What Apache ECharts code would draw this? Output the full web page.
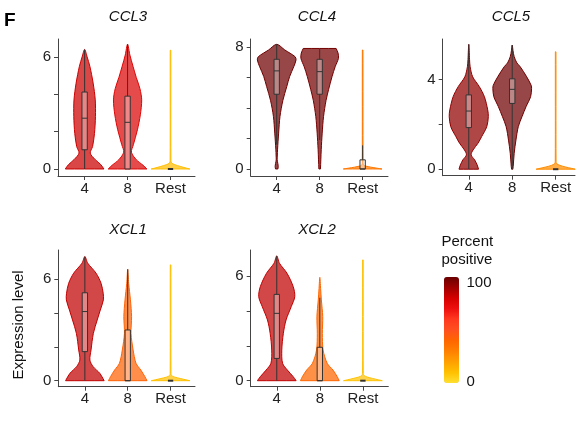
<!DOCTYPE html>
<html><head><meta charset="utf-8">
<script src="https://cdn.jsdelivr.net/npm/echarts@6/dist/echarts.min.js"></script>
<style>html,body{margin:0;padding:0;background:#fff}#c{width:577px;height:423px}</style>
</head><body><div id="c"></div>
<script>
// ---------------- data ----------------
const genes = ['CCL3', 'CCL4', 'CCL5', 'XCL1', 'XCL2'];
const groups = ['4', '8', 'Rest'];

// percent positive per group (4, 8, Rest)
const ccl3Pct = [82, 77, 11];
const ccl4Pct = [99, 98, 33];
const ccl5Pct = [93, 99, 26];
const xcl1Pct = [84, 42, 10];
const xcl2Pct = [84, 40, 9];

// violin outlines: [expression, relative half-width]
const ccl3Shapes = [
  [[0,1.0],[0.23,0.84],[0.5,0.55],[0.85,0.29],[1.2,0.41],[1.9,0.51],[2.8,0.56],[3.7,0.55],[4.6,0.44],[5.5,0.27],[6.0,0.13],[6.4,0]],
  [[0,1.0],[0.2,0.8],[0.5,0.45],[0.9,0.2],[1.3,0.3],[2.1,0.51],[2.9,0.66],[3.7,0.73],[4.3,0.64],[4.9,0.45],[5.5,0.28],[6.1,0.12],[6.68,0]],
  [[0,1.0],[0.05,0.8],[0.14,0.5],[0.23,0.22],[0.32,0.05],[0.45,0.02],[6.36,0.015],[6.36,0]]
];
const ccl4Shapes = [
  [[0,0.06],[0.15,0.08],[0.35,0.06],[0.6,0.025],[0.85,0.03],[1.3,0.045],[2.35,0.1],[3.45,0.17],[4.5,0.32],[5.4,0.52],[6.06,0.67],[6.7,0.88],[7.15,1.0],[7.36,0.95],[7.8,0.42],[8.17,0]],
  [[0,0.04],[0.6,0.06],[1.26,0.08],[2.35,0.13],[3.44,0.2],[4.5,0.33],[5.2,0.46],[6.06,0.64],[6.7,0.8],[7.25,0.97],[7.6,0.95],[7.9,0.85]],
  [[0,1.0],[0.05,0.75],[0.12,0.42],[0.19,0.16],[0.26,0.04],[0.4,0.02],[7.8,0.015],[7.8,0]]
];
const ccl5Shapes = [
  [[0,0.5],[0.19,0.43],[0.42,0.3],[0.64,0.12],[0.86,0.22],[1.16,0.47],[1.46,0.66],[1.9,0.92],[2.35,1.0],[2.65,0.97],[3.24,0.8],[3.69,0.54],[4.13,0.2],[4.58,0.07],[4.9,0.04],[5.58,0]],
  [[0,0.03],[0.12,0.05],[0.71,0.1],[1.3,0.19],[1.9,0.31],[2.35,0.5],[2.8,0.71],[3.24,0.94],[3.6,0.99],[3.75,0.97],[4.13,0.74],[4.58,0.41],[4.75,0.24],[5.03,0.1],[5.3,0.04],[5.55,0]],
  [[0,1.0],[0.04,0.8],[0.1,0.5],[0.17,0.22],[0.25,0.05],[0.36,0.02],[5.25,0.015],[5.25,0]]
];
const xcl1Shapes = [
  [[0,1.0],[0.43,0.78],[0.83,0.43],[1.22,0.26],[1.82,0.32],[2.8,0.44],[3.59,0.64],[4.18,0.8],[4.78,0.96],[5.17,0.95],[5.76,0.84],[6.36,0.58],[6.95,0.15],[7.34,0]],
  [[0,1.0],[0.24,0.89],[0.63,0.68],[1.03,0.43],[1.82,0.28],[2.8,0.17],[3.79,0.2],[4.78,0.14],[5.76,0.05],[6.59,0]],
  [[0,1.0],[0.05,0.8],[0.13,0.5],[0.21,0.22],[0.3,0.05],[0.42,0.02],[6.85,0.015],[6.85,0]]
];
const xcl2Shapes = [
  [[0,1.0],[0.23,0.85],[0.61,0.55],[1.0,0.3],[1.76,0.26],[2.72,0.34],[3.49,0.48],[4.26,0.75],[4.83,0.93],[5.4,0.85],[6.17,0.53],[6.75,0.14],[7.17,0]],
  [[0,1.0],[0.23,0.9],[0.61,0.68],[1.0,0.38],[1.76,0.17],[2.72,0.13],[3.68,0.15],[4.64,0.08],[5.3,0.04],[5.94,0]],
  [[0,1.0],[0.05,0.8],[0.13,0.5],[0.21,0.22],[0.3,0.05],[0.42,0.02],[6.94,0.015],[6.94,0]]
];

// box stats: [min, q1, median, q3, max]
const ccl3Boxes = [[0,1.03,2.72,4.12,6.4],[0,0,2.5,3.9,6.68],[0,0,0,0,0]];
const ccl4Boxes = [[1.6,4.9,6.43,7.19,8.17],[1.9,4.9,6.38,7.19,7.9],[0,0,0,0.6,1.55]];
const ccl5Boxes = [[0,1.86,2.6,3.32,5.58],[0,2.94,3.57,4.04,5.55],[0,0,0,0,0]];
const xcl1Boxes = [[0,1.72,4.09,5.2,7.34],[0,0,0,3.0,6.59],[0,0,0,0,0]];
const xcl2Boxes = [[0,1.28,3.87,4.96,7.17],[0,0,0,1.92,4.77],[0,0,0,0,0]];

// y-axis ticks and labels
const ccl3Ticks = [0,2,4,6],   ccl3Labels = [0,6];
const ccl4Ticks = [0,2,4,6,8], ccl4Labels = [0,8];
const ccl5Ticks = [0,2,4],     ccl5Labels = [0,4];
const xcl1Ticks = [0,2,4,6],   xcl1Labels = [0,6];
const xcl2Ticks = [0,2,4,6],   xcl2Labels = [0,6];
const legendTicks = ['100', '0'];

// ---------------- assembly ----------------
const pcts = [ccl3Pct, ccl4Pct, ccl5Pct, xcl1Pct, xcl2Pct];
const shapes = [ccl3Shapes, ccl4Shapes, ccl5Shapes, xcl1Shapes, xcl2Shapes];
const boxes = [ccl3Boxes, ccl4Boxes, ccl5Boxes, xcl1Boxes, xcl2Boxes];
const yTicks = [ccl3Ticks, ccl4Ticks, ccl5Ticks, xcl1Ticks, xcl2Ticks];
const yLabels = [ccl3Labels, ccl4Labels, ccl5Labels, xcl1Labels, xcl2Labels];

const layout = [
  {left:58,    top:39,  width:137,   height:137,   x:[0.38,3.57],  y:[-0.375,6.96]},
  {left:250.7, top:39,  width:137.3, height:137,   x:[0.395,3.59], y:[-0.46,8.52]},
  {left:442.7, top:39,  width:132.3, height:136.7, x:[0.40,3.445], y:[-0.29,5.82]},
  {left:58.3,  top:250, width:136.7, height:136.7, x:[0.38,3.57],  y:[-0.355,7.73]},
  {left:250.7, top:250, width:137.6, height:136.7, x:[0.395,3.59], y:[-0.345,7.51]}
];
const titlePos = [[128,17],[317,17],[511,17],[128,230],[317,230]];

const FONT = 'Liberation Sans, Arial, Helvetica, sans-serif';
const AX = '#444';
const HW = 0.45;   // max violin half-width (x units)
const BW = 0.062;  // box half-width

function renderViolin(gi, params, api) {
  const k = params.dataIndex;
  const xc = api.value(0);
  const prof = shapes[gi][k];
  const [mn, q1, md, q3, mx] = boxes[gi][k];
  const color = api.visual('color');
  const n = prof.length;
  const flatTop = prof[n - 1][1] > 0;
  const right = [], left = [];
  prof.forEach(([y, w], j) => {
    const pr = api.coord([xc + w * HW, y]);
    const pl = api.coord([xc - w * HW, y]);
    const dup = (j === 0) || (j === n - 1 && flatTop);
    right.push(pr); if (dup) right.push(pr.slice());
    if (!(j === n - 1 && !flatTop)) { left.push(pl); if (dup) left.push(pl.slice()); }
  });
  const pts = right.concat(left.reverse());
  const children = [{
    type: 'polygon',
    shape: { points: pts, smooth: 0.3 },
    style: { fill: color, fillOpacity: 0.72, stroke: color, lineWidth: 1 }
  }];
  const lineStyle = { stroke: '#333', lineWidth: 1 };
  if (mx > q3) {
    const a = api.coord([xc, q3]), b = api.coord([xc, mx]);
    children.push({ type: 'line', shape: { x1: a[0], y1: a[1], x2: b[0], y2: b[1] }, style: lineStyle });
  }
  if (q1 > mn) {
    const a = api.coord([xc, mn]), b = api.coord([xc, q1]);
    children.push({ type: 'line', shape: { x1: a[0], y1: a[1], x2: b[0], y2: b[1] }, style: lineStyle });
  }
  const tl = api.coord([xc - BW, q3]), br = api.coord([xc + BW, q1]);
  if (q3 > q1) {
    children.push({ type: 'rect', shape: { x: tl[0], y: tl[1], width: br[0] - tl[0], height: br[1] - tl[1] },
      style: { fill: 'rgba(255,255,255,0.35)', stroke: '#333', lineWidth: 1 } });
  }
  const m1 = api.coord([xc - BW, md]), m2 = api.coord([xc + BW, md]);
  children.push({ type: 'line', shape: { x1: m1[0], y1: m1[1], x2: m2[0], y2: m2[1] },
    style: { stroke: '#333', lineWidth: q3 > q1 ? 1 : 2 } });
  return { type: 'group', children };
}

const grid = layout.map(l => ({ left: l.left, top: l.top, width: l.width, height: l.height }));
const xAxis = layout.map((l, i) => ({
  gridIndex: i, type: 'value', min: l.x[0], max: l.x[1],
  axisLine: { show: true, onZero: false, lineStyle: { color: AX, width: 1 } },
  axisTick: { show: true, customValues: [1, 2, 3], length: 4, lineStyle: { color: AX } },
  axisLabel: { show: true, customValues: [1, 2, 3], formatter: v => groups[Math.round(v) - 1],
    fontSize: 15, color: '#222', margin: 5, fontFamily: FONT },
  splitLine: { show: false }
}));
const yAxis = layout.map((l, i) => ({
  gridIndex: i, type: 'value', min: l.y[0], max: l.y[1],
  axisLine: { show: true, onZero: false, lineStyle: { color: AX, width: 1 } },
  axisTick: { show: true, customValues: yTicks[i], length: 4, lineStyle: { color: AX } },
  axisLabel: { show: true, customValues: yLabels[i], fontSize: 15, color: '#222', margin: 7, fontFamily: FONT },
  splitLine: { show: false }
}));
const series = genes.map((g, i) => ({
  type: 'custom', name: g, xAxisIndex: i, yAxisIndex: i,
  encode: { x: 0, y: 1 },
  data: pcts[i].map((p, k) => [k + 1, k, p]),
  renderItem: (params, api) => renderViolin(i, params, api),
  silent: true
}));

const graphic = [
  { type: 'text', x: 4, y: 21, style: { text: 'F', fontSize: 19, fontWeight: 'bold', fontFamily: FONT, fill: '#000', align: 'left', verticalAlign: 'middle' } },
  ...genes.map((g, i) => ({ type: 'text', x: titlePos[i][0], y: titlePos[i][1],
    style: { text: g, fontSize: 15, fontStyle: 'italic', fontFamily: FONT, fill: '#111', align: 'center', verticalAlign: 'middle' } })),
  { type: 'text', x: 19, y: 325, rotation: Math.PI / 2,
    style: { text: 'Expression level', fontSize: 15, fontFamily: FONT, fill: '#111', align: 'center', verticalAlign: 'middle' } },
  { type: 'text', x: 441.5, y: 242, style: { text: 'Percent', fontSize: 15, fontFamily: FONT, fill: '#111', align: 'left', verticalAlign: 'middle' } },
  { type: 'text', x: 441.5, y: 260, style: { text: 'positive', fontSize: 15, fontFamily: FONT, fill: '#111', align: 'left', verticalAlign: 'middle' } },
  { type: 'text', x: 466.5, y: 283, style: { text: legendTicks[0], fontSize: 15, fontFamily: FONT, fill: '#111', align: 'left', verticalAlign: 'middle' } },
  { type: 'text', x: 466.5, y: 382, style: { text: legendTicks[1], fontSize: 15, fontFamily: FONT, fill: '#111', align: 'left', verticalAlign: 'middle' } }
];

const chart = echarts.init(document.getElementById('c'), null, { renderer: 'canvas' });
chart.setOption({
  animation: false,
  backgroundColor: '#fff',
  grid, xAxis, yAxis, series, graphic,
  visualMap: {
    type: 'continuous', min: 0, max: 100, dimension: 2, seriesIndex: [0, 1, 2, 3, 4],
    left: 444, top: 277, itemWidth: 15, itemHeight: 106, padding: 0,
    calculable: false, text: null, hoverLink: false,
    inRange: { color: ['#ffe030', '#ffc000', '#ffa000', '#ff8000', '#ff6600', '#ff5020', '#ff3a20', '#ee1010', '#d50000', '#a00000', '#6a0000'] }
  }
});
</script></body></html>
